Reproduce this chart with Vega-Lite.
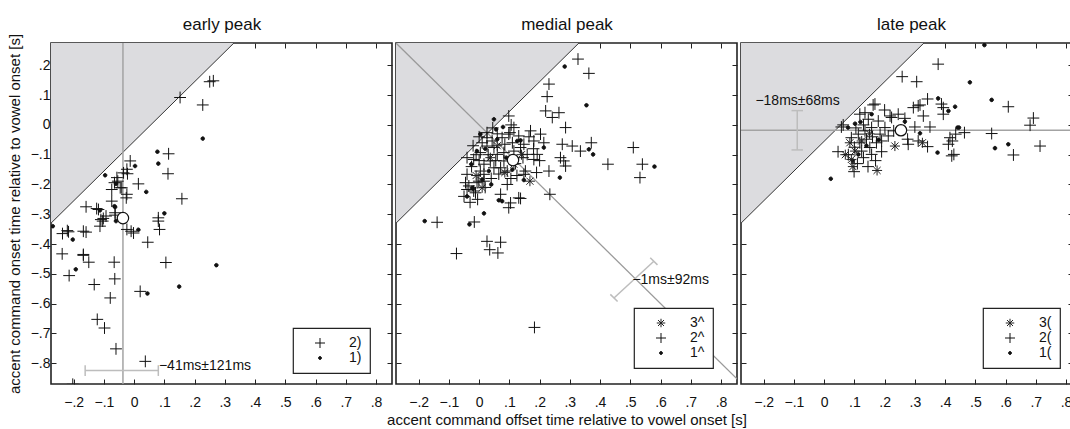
{
  "$schema": "https://vega.github.io/schema/vega-lite/v6.json",
  "padding": {"left": 6, "top": 14, "right": 0, "bottom": 0},
  "spacing": 4,
  "bounds": "flush",
  "config": {
    "font": "Liberation Sans",
    "view": {"stroke": "#222", "strokeWidth": 1.6},
    "axis": {"domain": false, "grid": false, "tickColor": "#222", "tickSize": -5, "labelFontSize": 14, "labelColor": "#111", "labelFont": "Liberation Sans", "titleFont": "Liberation Sans", "titleFontSize": 15, "titleFontWeight": "normal", "titleColor": "#111"},
    "legend": {"orient": "none", "strokeColor": "#222", "strokeWidth": 1.2, "fillColor": "white", "padding": 8, "labelFontSize": 14, "labelColor": "#111", "labelFont": "Liberation Sans", "symbolStrokeWidth": 1, "rowPadding": 1, "labelOffset": 22, "symbolOffset": 12, "title": null, "cornerRadius": 0}
  },
  "datasets": {
    "early": [
      {"x":0.262,"y":0.148,"g":"2)"},{"x":0.250,"y":0.145,"g":"2)"},{"x":0.152,"y":0.092,"g":"2)"},{"x":0.227,"y":0.067,"g":"2)"},{"x":0.114,"y":-0.097,"g":"2)"},{"x":0.112,"y":-0.164,"g":"2)"},{"x":0.158,"y":-0.248,"g":"2)"},{"x":0.080,"y":-0.312,"g":"2)"},{"x":-0.013,"y":-0.121,"g":"2)"},{"x":-0.024,"y":-0.149,"g":"2)"},{"x":-0.057,"y":-0.177,"g":"2)"},{"x":-0.065,"y":-0.194,"g":"2)"},{"x":-0.046,"y":-0.211,"g":"2)"},{"x":-0.024,"y":-0.233,"g":"2)"},{"x":0.014,"y":-0.198,"g":"2)"},{"x":-0.074,"y":-0.217,"g":"2)"},{"x":-0.035,"y":-0.161,"g":"2)"},{"x":-0.159,"y":-0.275,"g":"2)"},{"x":-0.118,"y":-0.284,"g":"2)"},{"x":-0.074,"y":-0.256,"g":"2)"},{"x":-0.237,"y":-0.365,"g":"2)"},{"x":-0.217,"y":-0.359,"g":"2)"},{"x":-0.159,"y":-0.360,"g":"2)"},{"x":-0.238,"y":-0.433,"g":"2)"},{"x":-0.168,"y":-0.435,"g":"2)"},{"x":-0.150,"y":-0.461,"g":"2)"},{"x":-0.215,"y":-0.506,"g":"2)"},{"x":-0.132,"y":-0.536,"g":"2)"},{"x":-0.066,"y":-0.461,"g":"2)"},{"x":-0.064,"y":-0.517,"g":"2)"},{"x":-0.079,"y":-0.581,"g":"2)"},{"x":-0.122,"y":-0.653,"g":"2)"},{"x":-0.098,"y":-0.682,"g":"2)"},{"x":-0.060,"y":-0.752,"g":"2)"},{"x":0.037,"y":-0.794,"g":"2)"},{"x":-0.203,"y":-0.871,"g":"2)"},{"x":-0.113,"y":-0.340,"g":"2)"},{"x":-0.110,"y":-0.318,"g":"2)"},{"x":-0.093,"y":-0.306,"g":"2)"},{"x":-0.063,"y":-0.295,"g":"2)"},{"x":-0.024,"y":-0.351,"g":"2)"},{"x":-0.002,"y":-0.363,"g":"2)"},{"x":0.045,"y":-0.394,"g":"2)"},{"x":0.080,"y":-0.323,"g":"2)"},{"x":0.084,"y":-0.351,"g":"2)"},{"x":0.105,"y":-0.462,"g":"2)"},{"x":0.020,"y":-0.559,"g":"2)"},{"x":-0.022,"y":-0.164,"g":"2)"},{"x":-0.054,"y":-0.189,"g":"2)"},{"x":-0.041,"y":-0.211,"g":"2)"},{"x":-0.026,"y":-0.245,"g":"2)"},{"x":-0.063,"y":-0.303,"g":"2)"},{"x":-0.102,"y":-0.314,"g":"2)"},{"x":-0.104,"y":-0.323,"g":"2)"},{"x":-0.010,"y":-0.357,"g":"2)"},{"x":-0.221,"y":-0.355,"g":"2)"},{"x":-0.168,"y":-0.357,"g":"2)"},{"x":-0.168,"y":-0.438,"g":"2)"},{"x":-0.124,"y":-0.281,"g":"2)"},
      {"x":0.227,"y":-0.046,"g":"1)"},{"x":0.077,"y":-0.090,"g":"1)"},{"x":0.080,"y":-0.130,"g":"1)"},{"x":0.040,"y":-0.225,"g":"1)"},{"x":0.100,"y":-0.297,"g":"1)"},{"x":-0.096,"y":-0.169,"g":"1)"},{"x":0.003,"y":-0.138,"g":"1)"},{"x":-0.060,"y":-0.198,"g":"1)"},{"x":-0.065,"y":-0.273,"g":"1)"},{"x":-0.113,"y":-0.287,"g":"1)"},{"x":-0.269,"y":-0.340,"g":"1)"},{"x":-0.203,"y":-0.385,"g":"1)"},{"x":-0.193,"y":-0.485,"g":"1)"},{"x":-0.060,"y":-0.323,"g":"1)"},{"x":0.014,"y":-0.352,"g":"1)"},{"x":0.272,"y":-0.471,"g":"1)"},{"x":0.149,"y":-0.543,"g":"1)"},{"x":0.044,"y":-0.566,"g":"1)"},{"x":-0.063,"y":-0.276,"g":"1)"}
    ],
    "medial": [
      {"x":0.327,"y":0.221,"g":"2^"},{"x":0.363,"y":0.173,"g":"2^"},{"x":0.231,"y":0.137,"g":"2^"},{"x":0.225,"y":0.095,"g":"2^"},{"x":0.220,"y":0.047,"g":"2^"},{"x":0.264,"y":0.041,"g":"2^"},{"x":0.242,"y":0.025,"g":"2^"},{"x":0.286,"y":-0.009,"g":"2^"},{"x":0.275,"y":-0.065,"g":"2^"},{"x":0.308,"y":-0.071,"g":"2^"},{"x":0.335,"y":-0.088,"g":"2^"},{"x":0.371,"y":-0.060,"g":"2^"},{"x":0.510,"y":-0.076,"g":"2^"},{"x":0.540,"y":-0.132,"g":"2^"},{"x":0.532,"y":-0.177,"g":"2^"},{"x":0.426,"y":-0.132,"g":"2^"},{"x":0.269,"y":-0.110,"g":"2^"},{"x":0.286,"y":-0.138,"g":"2^"},{"x":0.231,"y":-0.155,"g":"2^"},{"x":0.234,"y":-0.233,"g":"2^"},{"x":0.098,"y":0.030,"g":"2^"},{"x":0.115,"y":-0.009,"g":"2^"},{"x":0.170,"y":-0.020,"g":"2^"},{"x":0.203,"y":-0.031,"g":"2^"},{"x":0.131,"y":-0.037,"g":"2^"},{"x":0.102,"y":-0.026,"g":"2^"},{"x":0.181,"y":-0.054,"g":"2^"},{"x":0.214,"y":-0.060,"g":"2^"},{"x":0.026,"y":-0.043,"g":"2^"},{"x":0.049,"y":-0.076,"g":"2^"},{"x":0.093,"y":-0.200,"g":"2^"},{"x":0.071,"y":-0.233,"g":"2^"},{"x":0.104,"y":-0.262,"g":"2^"},{"x":0.137,"y":-0.247,"g":"2^"},{"x":0.098,"y":-0.278,"g":"2^"},{"x":0.148,"y":-0.166,"g":"2^"},{"x":-0.040,"y":-0.166,"g":"2^"},{"x":-0.034,"y":-0.205,"g":"2^"},{"x":-0.012,"y":-0.228,"g":"2^"},{"x":0.016,"y":-0.189,"g":"2^"},{"x":0.004,"y":-0.155,"g":"2^"},{"x":-0.040,"y":-0.110,"g":"2^"},{"x":0.010,"y":-0.060,"g":"2^"},{"x":0.026,"y":-0.026,"g":"2^"},{"x":-0.139,"y":-0.327,"g":"2^"},{"x":-0.016,"y":-0.326,"g":"2^"},{"x":-0.075,"y":-0.432,"g":"2^"},{"x":0.026,"y":-0.391,"g":"2^"},{"x":0.071,"y":-0.394,"g":"2^"},{"x":0.035,"y":-0.419,"g":"2^"},{"x":0.062,"y":-0.430,"g":"2^"},{"x":0.183,"y":-0.680,"g":"2^"},{"x":0.106,"y":0.000,"g":"2^"},{"x":0.280,"y":-0.121,"g":"2^"},{"x":0.192,"y":-0.099,"g":"2^"},{"x":0.181,"y":-0.116,"g":"2^"},{"x":0.153,"y":-0.155,"g":"2^"},{"x":0.131,"y":-0.245,"g":"2^"},{"x":-0.018,"y":-0.222,"g":"2^"},{"x":-0.007,"y":-0.194,"g":"2^"},{"x":-0.018,"y":-0.116,"g":"2^"},{"x":0.004,"y":-0.093,"g":"2^"},{"x":0.026,"y":-0.071,"g":"2^"},{"x":0.043,"y":-0.054,"g":"2^"},{"x":0.076,"y":-0.043,"g":"2^"},{"x":0.098,"y":-0.031,"g":"2^"},{"x":0.016,"y":-0.132,"g":"2^"},{"x":0.037,"y":-0.121,"g":"2^"},{"x":0.060,"y":-0.099,"g":"2^"},{"x":0.082,"y":-0.093,"g":"2^"},{"x":0.049,"y":-0.144,"g":"2^"},{"x":0.016,"y":-0.166,"g":"2^"},{"x":-0.001,"y":-0.189,"g":"2^"},{"x":0.137,"y":-0.076,"g":"2^"},{"x":0.159,"y":-0.099,"g":"2^"},{"x":0.148,"y":-0.065,"g":"2^"},{"x":0.115,"y":-0.088,"g":"2^"},{"x":0.082,"y":-0.121,"g":"2^"},{"x":0.071,"y":-0.144,"g":"2^"},{"x":0.093,"y":-0.155,"g":"2^"},{"x":-0.045,"y":-0.194,"g":"2^"},{"x":-0.040,"y":-0.217,"g":"2^"},{"x":0.165,"y":-0.040,"g":"2^"},{"x":0.045,"y":-0.010,"g":"2^"},{"x":0.060,"y":-0.030,"g":"2^"},{"x":-0.010,"y":-0.100,"g":"2^"},{"x":-0.025,"y":-0.140,"g":"2^"},{"x":0.000,"y":-0.120,"g":"2^"},{"x":0.030,"y":-0.100,"g":"2^"},{"x":0.055,"y":-0.120,"g":"2^"},{"x":0.065,"y":-0.165,"g":"2^"},{"x":0.040,"y":-0.180,"g":"2^"},{"x":0.020,"y":-0.210,"g":"2^"},{"x":-0.005,"y":-0.250,"g":"2^"},{"x":-0.030,"y":-0.260,"g":"2^"},{"x":-0.050,"y":-0.240,"g":"2^"},{"x":0.120,"y":-0.130,"g":"2^"},{"x":0.125,"y":-0.170,"g":"2^"},{"x":0.105,"y":-0.180,"g":"2^"},{"x":0.145,"y":-0.110,"g":"2^"},{"x":0.110,"y":-0.060,"g":"2^"},{"x":0.085,"y":-0.065,"g":"2^"},{"x":0.180,"y":-0.080,"g":"2^"},{"x":0.200,"y":-0.120,"g":"2^"},{"x":-0.020,"y":-0.070,"g":"2^"},{"x":0.000,"y":-0.040,"g":"2^"},{"x":0.190,"y":-0.160,"g":"2^"},
      {"x":0.283,"y":0.196,"g":"1^"},{"x":0.355,"y":0.066,"g":"1^"},{"x":0.363,"y":-0.082,"g":"1^"},{"x":0.377,"y":-0.099,"g":"1^"},{"x":0.580,"y":-0.140,"g":"1^"},{"x":0.267,"y":-0.177,"g":"1^"},{"x":0.049,"y":0.019,"g":"1^"},{"x":0.056,"y":-0.015,"g":"1^"},{"x":0.079,"y":-0.007,"g":"1^"},{"x":0.137,"y":-0.052,"g":"1^"},{"x":0.214,"y":-0.076,"g":"1^"},{"x":0.065,"y":-0.253,"g":"1^"},{"x":0.076,"y":-0.256,"g":"1^"},{"x":0.016,"y":-0.297,"g":"1^"},{"x":0.148,"y":-0.185,"g":"1^"},{"x":-0.020,"y":-0.214,"g":"1^"},{"x":-0.026,"y":-0.132,"g":"1^"},{"x":-0.007,"y":-0.088,"g":"1^"},{"x":-0.180,"y":-0.323,"g":"1^"},{"x":-0.032,"y":-0.334,"g":"1^"},{"x":0.060,"y":-0.048,"g":"1^"},{"x":0.032,"y":-0.155,"g":"1^"},{"x":0.010,"y":-0.183,"g":"1^"},{"x":0.126,"y":-0.054,"g":"1^"},{"x":-0.023,"y":-0.211,"g":"1^"},{"x":0.004,"y":-0.031,"g":"1^"},{"x":0.090,"y":-0.110,"g":"1^"},{"x":0.040,"y":-0.200,"g":"1^"},{"x":-0.040,"y":-0.240,"g":"1^"},{"x":0.110,"y":-0.150,"g":"1^"},{"x":0.020,"y":-0.080,"g":"1^"},
      {"x":0.168,"y":-0.189,"g":"3^"},{"x":0.115,"y":-0.132,"g":"3^"},{"x":0.037,"y":-0.110,"g":"3^"},{"x":0.010,"y":-0.211,"g":"3^"},{"x":0.060,"y":-0.070,"g":"3^"},{"x":-0.010,"y":-0.170,"g":"3^"},{"x":0.085,"y":-0.160,"g":"3^"},{"x":0.140,"y":-0.100,"g":"3^"}
    ],
    "late": [
      {"x":0.377,"y":0.204,"g":"2("},{"x":0.258,"y":0.162,"g":"2("},{"x":0.306,"y":0.145,"g":"2("},{"x":0.609,"y":0.061,"g":"2("},{"x":0.692,"y":0.023,"g":"2("},{"x":0.681,"y":-0.001,"g":"2("},{"x":0.714,"y":-0.071,"g":"2("},{"x":0.626,"y":-0.101,"g":"2("},{"x":0.554,"y":-0.029,"g":"2("},{"x":0.464,"y":-0.026,"g":"2("},{"x":0.416,"y":-0.043,"g":"2("},{"x":0.411,"y":-0.065,"g":"2("},{"x":0.422,"y":-0.104,"g":"2("},{"x":0.342,"y":-0.073,"g":"2("},{"x":0.350,"y":-0.007,"g":"2("},{"x":0.300,"y":-0.007,"g":"2("},{"x":0.394,"y":0.058,"g":"2("},{"x":0.342,"y":0.087,"g":"2("},{"x":0.317,"y":0.067,"g":"2("},{"x":0.295,"y":0.058,"g":"2("},{"x":0.328,"y":0.030,"g":"2("},{"x":0.267,"y":0.022,"g":"2("},{"x":0.168,"y":0.070,"g":"2("},{"x":0.135,"y":0.041,"g":"2("},{"x":0.223,"y":0.025,"g":"2("},{"x":0.278,"y":-0.065,"g":"2("},{"x":0.190,"y":-0.054,"g":"2("},{"x":0.057,"y":-0.007,"g":"2("},{"x":0.046,"y":-0.090,"g":"2("},{"x":0.099,"y":-0.157,"g":"2("},{"x":0.162,"y":0.067,"g":"2("},{"x":0.311,"y":0.064,"g":"2("},{"x":0.388,"y":0.070,"g":"2("},{"x":0.394,"y":0.036,"g":"2("},{"x":0.435,"y":-0.031,"g":"2("},{"x":0.424,"y":-0.054,"g":"2("},{"x":0.429,"y":-0.099,"g":"2("},{"x":0.311,"y":-0.054,"g":"2("},{"x":0.276,"y":-0.048,"g":"2("},{"x":0.245,"y":0.036,"g":"2("},{"x":0.218,"y":0.030,"g":"2("},{"x":0.201,"y":-0.009,"g":"2("},{"x":0.185,"y":-0.031,"g":"2("},{"x":0.173,"y":-0.060,"g":"2("},{"x":0.151,"y":-0.076,"g":"2("},{"x":0.157,"y":-0.099,"g":"2("},{"x":0.124,"y":-0.088,"g":"2("},{"x":0.063,"y":0.000,"g":"2("},{"x":0.118,"y":0.036,"g":"2("},{"x":0.146,"y":0.019,"g":"2("},{"x":0.179,"y":0.013,"g":"2("},{"x":0.157,"y":-0.009,"g":"2("},{"x":0.135,"y":-0.020,"g":"2("},{"x":0.113,"y":-0.031,"g":"2("},{"x":0.118,"y":-0.060,"g":"2("},{"x":0.090,"y":-0.043,"g":"2("},{"x":0.140,"y":-0.048,"g":"2("},{"x":0.212,"y":-0.037,"g":"2("},{"x":0.100,"y":-0.075,"g":"2("},{"x":0.130,"y":-0.110,"g":"2("},{"x":0.170,"y":-0.120,"g":"2("},{"x":0.190,"y":-0.090,"g":"2("},{"x":0.105,"y":-0.010,"g":"2("},{"x":0.130,"y":0.000,"g":"2("},{"x":0.160,"y":-0.040,"g":"2("},{"x":0.230,"y":-0.020,"g":"2("},{"x":0.080,"y":-0.100,"g":"2("},{"x":0.200,"y":0.050,"g":"2("},{"x":0.110,"y":-0.130,"g":"2("},{"x":0.145,"y":-0.140,"g":"2("},
      {"x":0.530,"y":0.268,"g":"1("},{"x":0.482,"y":0.143,"g":"1("},{"x":0.554,"y":0.084,"g":"1("},{"x":0.609,"y":-0.065,"g":"1("},{"x":0.565,"y":-0.078,"g":"1("},{"x":0.441,"y":-0.009,"g":"1("},{"x":0.375,"y":-0.093,"g":"1("},{"x":0.317,"y":-0.028,"g":"1("},{"x":0.377,"y":0.089,"g":"1("},{"x":0.411,"y":0.047,"g":"1("},{"x":0.433,"y":0.061,"g":"1("},{"x":0.267,"y":0.011,"g":"1("},{"x":0.157,"y":0.036,"g":"1("},{"x":0.079,"y":-0.009,"g":"1("},{"x":0.102,"y":0.004,"g":"1("},{"x":0.022,"y":-0.181,"g":"1("},{"x":0.446,"y":-0.009,"g":"1("},{"x":0.113,"y":-0.099,"g":"1("},{"x":0.140,"y":-0.070,"g":"1("},{"x":0.180,"y":-0.050,"g":"1("},{"x":0.095,"y":-0.120,"g":"1("},{"x":0.120,"y":0.010,"g":"1("},
      {"x":0.325,"y":-0.060,"g":"3("},{"x":0.234,"y":-0.071,"g":"3("},{"x":0.175,"y":-0.153,"g":"3("},{"x":0.090,"y":-0.116,"g":"3("},{"x":0.085,"y":-0.060,"g":"3("},{"x":0.102,"y":-0.088,"g":"3("},{"x":0.124,"y":-0.054,"g":"3("},{"x":0.070,"y":-0.100,"g":"3("},{"x":0.095,"y":-0.140,"g":"3("},{"x":0.150,"y":-0.030,"g":"3(" }
    ]
  },
  "hconcat": [
    {
      "width": 341, "height": 341,
      "resolve": {"axis": {"x": "independent", "y": "independent"}},
      "layer": [
        {"data": {"values": [{"x": -0.275, "y": -0.33, "y2": 0.275}, {"x": 0.33, "y": 0.275, "y2": 0.275}]},
         "mark": {"type": "area", "fill": "#dcdcdf", "clip": true},
         "encoding": {"x": {"field": "x", "type": "quantitative", "scale": {"domain": [-0.275, 0.853], "nice": false, "zero": false}, "axis": null},
                      "y": {"field": "y", "type": "quantitative", "scale": {"domain": [-0.87, 0.275], "nice": false, "zero": false}, "axis": null},
                      "y2": {"field": "y2"}}},
        {"data": {"values": [{"x": -0.275, "y": -0.33}, {"x": 0.33, "y": 0.275}]},
         "mark": {"type": "line", "stroke": "#333", "strokeWidth": 1, "clip": true},
         "encoding": {"x": {"field": "x", "type": "quantitative", "axis": null}, "y": {"field": "y", "type": "quantitative", "axis": null}}},
        {"data": {"values": [{"x": -0.037}]},
         "mark": {"type": "rule", "stroke": "#a3a3a3", "strokeWidth": 1.5},
         "encoding": {"x": {"field": "x", "type": "quantitative", "axis": null}}},
        {"data": {"values": [{"x": -0.162, "y": -0.825, "x2": 0.080, "y2": -0.825}, {"x": -0.162, "y": -0.807, "x2": -0.162, "y2": -0.843}, {"x": 0.080, "y": -0.807, "x2": 0.080, "y2": -0.843}]},
         "mark": {"type": "rule", "stroke": "#bdbdbd", "strokeWidth": 1.5},
         "encoding": {"x": {"field": "x", "type": "quantitative", "axis": null}, "y": {"field": "y", "type": "quantitative", "axis": null}, "x2": {"field": "x2"}, "y2": {"field": "y2"}}},
        {"data": {"values": [{"x": 0.082, "y": -0.808, "t": "−41ms±121ms"}]},
         "mark": {"type": "text", "align": "left", "baseline": "middle", "fontSize": 14, "color": "#111"},
         "encoding": {"x": {"field": "x", "type": "quantitative", "axis": null}, "y": {"field": "y", "type": "quantitative", "axis": null}, "text": {"field": "t"}}},
        {"data": {"name": "early"},
         "mark": {"type": "point", "filled": false, "strokeWidth": 1, "size": 140, "opacity": 1, "clip": true},
         "encoding": {
           "x": {"field": "x", "type": "quantitative", "scale": {"domain": [-0.275, 0.853], "nice": false, "zero": false},
                 "axis": {"values": [-0.2,-0.1,0,0.1,0.2,0.3,0.4,0.5,0.6,0.7,0.8], "labelExpr": "datum.value == 0 ? '0' : replace(format(datum.value, '.1f'), '0.', '.')", "title": null, "labelPadding": 16}},
           "y": {"field": "y", "type": "quantitative", "scale": {"domain": [-0.87, 0.275], "nice": false, "zero": false},
                 "axis": {"values": [-0.8,-0.7,-0.6,-0.5,-0.4,-0.3,-0.2,-0.1,0,0.1,0.2], "labelExpr": "datum.value == 0 ? '0' : replace(format(datum.value, '.1f'), '0.', '.')", "title": "accent command onset time relative to vowel onset [s]", "labelPadding": 6, "titlePadding": 8}},
           "shape": {"field": "g", "type": "nominal", "scale": {"domain": ["2)", "1)"], "range": ["M-1,0L1,0M0,-1L0,1", "M0.3,0A0.3,0.3,0,1,1,-0.3,0A0.3,0.3,0,1,1,0.3,0Z"]}, "legend": {"legendX": 242, "legendY": 285}},
           "fill": {"field": "g", "type": "nominal", "scale": {"domain": ["2)", "1)"], "range": ["transparent", "#111"]}, "legend": {"legendX": 242, "legendY": 285}},
           "stroke": {"field": "g", "type": "nominal", "scale": {"domain": ["2)", "1)"], "range": ["#111", "#111"]}, "legend": {"legendX": 242, "legendY": 285}}
         }},
        {"data": {"values": [{"x": -0.037, "y": -0.313}]},
         "mark": {"type": "point", "filled": true, "fill": "white", "stroke": "#111", "strokeWidth": 1.2, "size": 130, "opacity": 1},
         "encoding": {"x": {"field": "x", "type": "quantitative", "axis": null}, "y": {"field": "y", "type": "quantitative", "axis": null}}},
        {"data": {"values": [{"x": -0.037, "y": -0.313}]},
         "mark": {"type": "point", "opacity": 0},
         "encoding": {"x": {"field": "x", "type": "quantitative", "axis": {"orient": "top", "values": [-0.2,-0.1,0,0.1,0.2,0.3,0.4,0.5,0.6,0.7,0.8], "labels": false, "title": "early peak", "titleFontSize": 17, "titlePadding": 10, "minExtent": 0, "maxExtent": 0}},
                      "y": {"field": "y", "type": "quantitative", "axis": {"orient": "right", "values": [-0.8,-0.7,-0.6,-0.5,-0.4,-0.3,-0.2,-0.1,0,0.1,0.2], "labels": false, "title": null, "minExtent": 0, "maxExtent": 0}}}}
      ]
    },
    {
      "width": 341, "height": 341,
      "resolve": {"axis": {"x": "independent", "y": "independent"}},
      "layer": [
        {"data": {"values": [{"x": -0.275, "y": -0.33, "y2": 0.275}, {"x": 0.33, "y": 0.275, "y2": 0.275}]},
         "mark": {"type": "area", "fill": "#dcdcdf", "clip": true},
         "encoding": {"x": {"field": "x", "type": "quantitative", "scale": {"domain": [-0.275, 0.853], "nice": false, "zero": false}, "axis": null},
                      "y": {"field": "y", "type": "quantitative", "scale": {"domain": [-0.87, 0.275], "nice": false, "zero": false}, "axis": null},
                      "y2": {"field": "y2"}}},
        {"data": {"values": [{"x": -0.275, "y": -0.33}, {"x": 0.33, "y": 0.275}]},
         "mark": {"type": "line", "stroke": "#333", "strokeWidth": 1, "clip": true},
         "encoding": {"x": {"field": "x", "type": "quantitative", "axis": null}, "y": {"field": "y", "type": "quantitative", "axis": null}}},
        {"data": {"values": [{"x": -0.275, "y": 0.275}, {"x": 0.87, "y": -0.87}]},
         "mark": {"type": "line", "stroke": "#9a9a9a", "strokeWidth": 1.3, "clip": true},
         "encoding": {"x": {"field": "x", "type": "quantitative", "axis": null}, "y": {"field": "y", "type": "quantitative", "axis": null}}},
        {"data": {"values": [{"x": 0.446, "y": -0.581, "x2": 0.578, "y2": -0.458}, {"x": 0.434, "y": -0.569, "x2": 0.458, "y2": -0.593}, {"x": 0.566, "y": -0.446, "x2": 0.590, "y2": -0.470}]},
         "mark": {"type": "rule", "stroke": "#bdbdbd", "strokeWidth": 1.5},
         "encoding": {"x": {"field": "x", "type": "quantitative", "axis": null}, "y": {"field": "y", "type": "quantitative", "axis": null}, "x2": {"field": "x2"}, "y2": {"field": "y2"}}},
        {"data": {"values": [{"x": 0.507, "y": -0.522, "t": "−1ms±92ms"}]},
         "mark": {"type": "text", "align": "left", "baseline": "middle", "fontSize": 14, "color": "#111"},
         "encoding": {"x": {"field": "x", "type": "quantitative", "axis": null}, "y": {"field": "y", "type": "quantitative", "axis": null}, "text": {"field": "t"}}},
        {"data": {"name": "medial"},
         "mark": {"type": "point", "filled": false, "strokeWidth": 1, "size": 140, "opacity": 1, "clip": true},
         "encoding": {
           "x": {"field": "x", "type": "quantitative", "scale": {"domain": [-0.275, 0.853], "nice": false, "zero": false},
                 "axis": {"values": [-0.2,-0.1,0,0.1,0.2,0.3,0.4,0.5,0.6,0.7,0.8], "labelExpr": "datum.value == 0 ? '0' : replace(format(datum.value, '.1f'), '0.', '.')", "title": "accent command offset time relative to vowel onset [s]", "labelPadding": 16, "titlePadding": 3}},
           "y": {"field": "y", "type": "quantitative", "scale": {"domain": [-0.87, 0.275], "nice": false, "zero": false},
                 "axis": {"values": [-0.8,-0.7,-0.6,-0.5,-0.4,-0.3,-0.2,-0.1,0,0.1,0.2], "labels": false, "title": null, "minExtent": 0, "maxExtent": 0}},
           "shape": {"field": "g", "type": "nominal", "scale": {"domain": ["3^", "2^", "1^"], "range": ["M-0.85,0L0.85,0M0,-0.85L0,0.85M-0.6,-0.6L0.6,0.6M-0.6,0.6L0.6,-0.6", "M-1,0L1,0M0,-1L0,1", "M0.3,0A0.3,0.3,0,1,1,-0.3,0A0.3,0.3,0,1,1,0.3,0Z"]}, "legend": {"legendX": 238, "legendY": 265}},
           "fill": {"field": "g", "type": "nominal", "scale": {"domain": ["3^", "2^", "1^"], "range": ["transparent", "transparent", "#111"]}, "legend": {"legendX": 238, "legendY": 265}},
           "stroke": {"field": "g", "type": "nominal", "scale": {"domain": ["3^", "2^", "1^"], "range": ["#222", "#111", "#111"]}, "legend": {"legendX": 238, "legendY": 265}}
         }},
        {"data": {"values": [{"x": 0.112, "y": -0.118}]},
         "mark": {"type": "point", "filled": true, "fill": "white", "stroke": "#111", "strokeWidth": 1.2, "size": 130, "opacity": 1},
         "encoding": {"x": {"field": "x", "type": "quantitative", "axis": null}, "y": {"field": "y", "type": "quantitative", "axis": null}}},
        {"data": {"values": [{"x": 0.112, "y": -0.118}]},
         "mark": {"type": "point", "opacity": 0},
         "encoding": {"x": {"field": "x", "type": "quantitative", "axis": {"orient": "top", "values": [-0.2,-0.1,0,0.1,0.2,0.3,0.4,0.5,0.6,0.7,0.8], "labels": false, "title": "medial peak", "titleFontSize": 17, "titlePadding": 10, "minExtent": 0, "maxExtent": 0}},
                      "y": {"field": "y", "type": "quantitative", "axis": {"orient": "right", "values": [-0.8,-0.7,-0.6,-0.5,-0.4,-0.3,-0.2,-0.1,0,0.1,0.2], "labels": false, "title": null, "minExtent": 0, "maxExtent": 0}}}}
      ]
    },
    {
      "width": 332, "height": 341,
      "resolve": {"axis": {"x": "independent", "y": "independent"}},
      "layer": [
        {"data": {"values": [{"x": -0.275, "y": -0.33, "y2": 0.275}, {"x": 0.33, "y": 0.275, "y2": 0.275}]},
         "mark": {"type": "area", "fill": "#dcdcdf", "clip": true},
         "encoding": {"x": {"field": "x", "type": "quantitative", "scale": {"domain": [-0.275, 0.823], "nice": false, "zero": false}, "axis": null},
                      "y": {"field": "y", "type": "quantitative", "scale": {"domain": [-0.87, 0.275], "nice": false, "zero": false}, "axis": null},
                      "y2": {"field": "y2"}}},
        {"data": {"values": [{"x": -0.275, "y": -0.33}, {"x": 0.33, "y": 0.275}]},
         "mark": {"type": "line", "stroke": "#333", "strokeWidth": 1, "clip": true},
         "encoding": {"x": {"field": "x", "type": "quantitative", "axis": null}, "y": {"field": "y", "type": "quantitative", "axis": null}}},
        {"data": {"values": [{"y": -0.018}]},
         "mark": {"type": "rule", "stroke": "#a3a3a3", "strokeWidth": 1.5},
         "encoding": {"y": {"field": "y", "type": "quantitative", "axis": null}}},
        {"data": {"values": [{"x": -0.089, "y": 0.048, "x2": -0.089, "y2": -0.084}, {"x": -0.108, "y": 0.048, "x2": -0.070, "y2": 0.048}, {"x": -0.108, "y": -0.084, "x2": -0.070, "y2": -0.084}]},
         "mark": {"type": "rule", "stroke": "#bdbdbd", "strokeWidth": 1.5},
         "encoding": {"x": {"field": "x", "type": "quantitative", "axis": null}, "y": {"field": "y", "type": "quantitative", "axis": null}, "x2": {"field": "x2"}, "y2": {"field": "y2"}}},
        {"data": {"values": [{"x": -0.088, "y": 0.081, "t": "−18ms±68ms"}]},
         "mark": {"type": "text", "align": "center", "baseline": "middle", "fontSize": 14, "color": "#111"},
         "encoding": {"x": {"field": "x", "type": "quantitative", "axis": null}, "y": {"field": "y", "type": "quantitative", "axis": null}, "text": {"field": "t"}}},
        {"data": {"name": "late"},
         "mark": {"type": "point", "filled": false, "strokeWidth": 1, "size": 140, "opacity": 1, "clip": true},
         "encoding": {
           "x": {"field": "x", "type": "quantitative", "scale": {"domain": [-0.275, 0.823], "nice": false, "zero": false},
                 "axis": {"values": [-0.2,-0.1,0,0.1,0.2,0.3,0.4,0.5,0.6,0.7,0.8], "labelExpr": "datum.value == 0 ? '0' : replace(format(datum.value, '.1f'), '0.', '.')", "title": null, "labelPadding": 16}},
           "y": {"field": "y", "type": "quantitative", "scale": {"domain": [-0.87, 0.275], "nice": false, "zero": false},
                 "axis": {"values": [-0.8,-0.7,-0.6,-0.5,-0.4,-0.3,-0.2,-0.1,0,0.1,0.2], "labels": false, "title": null, "minExtent": 0, "maxExtent": 0}},
           "shape": {"field": "g", "type": "nominal", "scale": {"domain": ["3(", "2(", "1("], "range": ["M-0.85,0L0.85,0M0,-0.85L0,0.85M-0.6,-0.6L0.6,0.6M-0.6,0.6L0.6,-0.6", "M-1,0L1,0M0,-1L0,1", "M0.3,0A0.3,0.3,0,1,1,-0.3,0A0.3,0.3,0,1,1,0.3,0Z"]}, "legend": {"legendX": 242, "legendY": 265}},
           "fill": {"field": "g", "type": "nominal", "scale": {"domain": ["3(", "2(", "1("], "range": ["transparent", "transparent", "#111"]}, "legend": {"legendX": 242, "legendY": 265}},
           "stroke": {"field": "g", "type": "nominal", "scale": {"domain": ["3(", "2(", "1("], "range": ["#222", "#111", "#111"]}, "legend": {"legendX": 242, "legendY": 265}}
         }},
        {"data": {"values": [{"x": 0.254, "y": -0.018}]},
         "mark": {"type": "point", "filled": true, "fill": "white", "stroke": "#111", "strokeWidth": 1.2, "size": 130, "opacity": 1},
         "encoding": {"x": {"field": "x", "type": "quantitative", "axis": null}, "y": {"field": "y", "type": "quantitative", "axis": null}}},
        {"data": {"values": [{"x": 0.254, "y": -0.018}]},
         "mark": {"type": "point", "opacity": 0},
         "encoding": {"x": {"field": "x", "type": "quantitative", "axis": {"orient": "top", "values": [-0.2,-0.1,0,0.1,0.2,0.3,0.4,0.5,0.6,0.7,0.8], "labels": false, "title": "late peak", "titleFontSize": 17, "titlePadding": 10, "titleX": 170, "minExtent": 0, "maxExtent": 0}},
                      "y": {"field": "y", "type": "quantitative", "axis": {"orient": "right", "values": [-0.8,-0.7,-0.6,-0.5,-0.4,-0.3,-0.2,-0.1,0,0.1,0.2], "labels": false, "title": null, "minExtent": 0, "maxExtent": 0}}}}
      ]
    }
  ],
  "resolve": {"scale": {"shape": "independent", "fill": "independent", "stroke": "independent"}, "legend": {"shape": "independent", "fill": "independent", "stroke": "independent"}}
}
